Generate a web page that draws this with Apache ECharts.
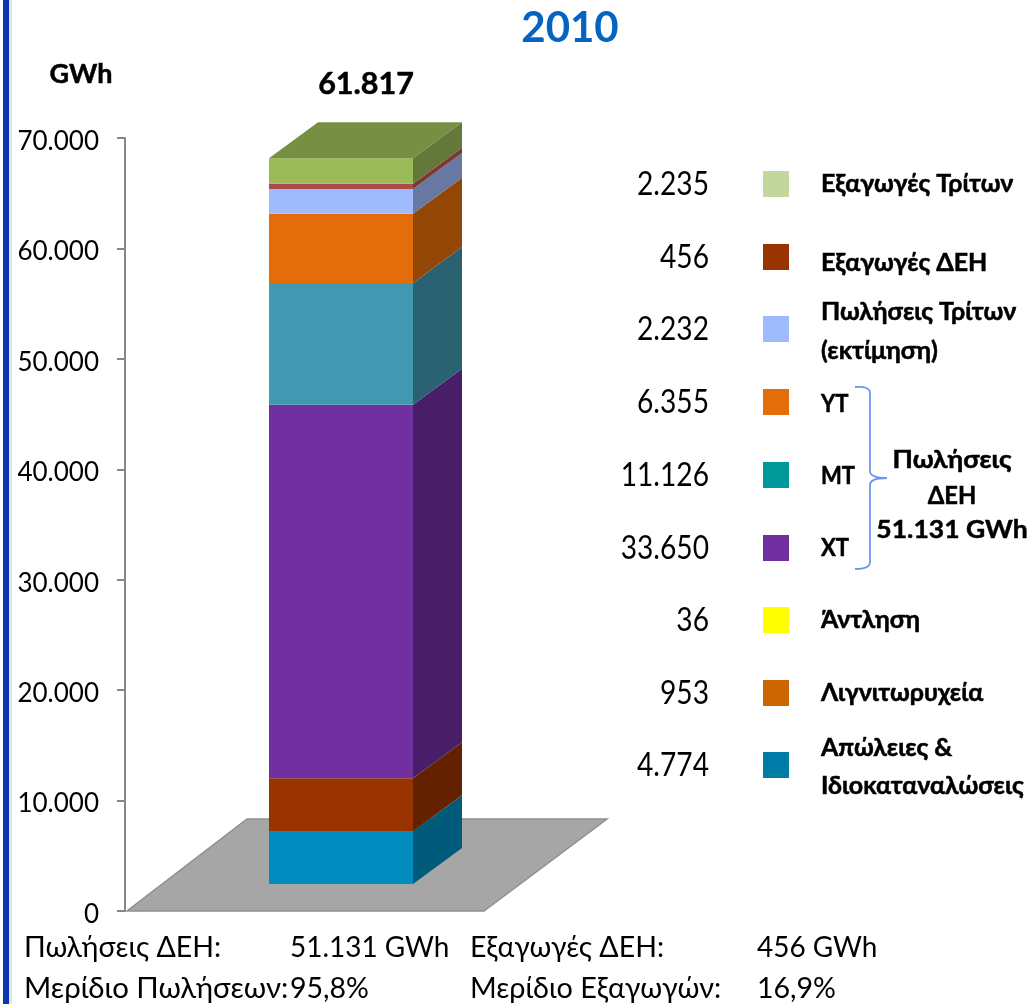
<!DOCTYPE html>
<html>
<head>
<meta charset="utf-8">
<title>2010</title>
<style>
  html, body { margin: 0; padding: 0; background: #fff; }
  #chart { width: 1033px; height: 1004px; }
</style>
</head>
<body>
<div id="chart"></div>
<script src="https://cdn.jsdelivr.net/npm/echarts@6/dist/echarts.min.js"></script>
<script>
// heights of the bar segments, bottom to top
var barNames = ["Απώλειες", "Λιγνιτωρυχεία", "ΧΤ", "ΜΤ", "ΥΤ", "Πωλήσεις Τρίτων", "Εξαγωγές ΔΕΗ", "Εξαγωγές Τρίτων"];
var barValues = [4774, 4800, 33830, 11020, 6280, 2235, 480, 2300];
var barFront = ["#008CBF", "#993300", "#7030A0", "#4298B0", "#E46C0A", "#A0BBFD", "#A94B4C", "#9BBB59"];
var barSide = ["#005A7A", "#632100", "#471E67", "#2A6272", "#934707", "#6779A3", "#7D3836", "#64783A"];
var barTop = "#768F42";

// legend on the right, top to bottom
var legendValues = ["2.235", "456", "2.232", "6.355", "11.126", "33.650", "36", "953", "4.774"];
var legendNames = [
  ["Εξαγωγές Τρίτων"], ["Εξαγωγές ΔΕΗ"], ["Πωλήσεις Τρίτων", "(εκτίμηση)"], ["ΥΤ"], ["ΜΤ"], ["ΧΤ"],
  ["Άντληση"], ["Λιγνιτωρυχεία"], ["Απώλειες &", "Ιδιοκαταναλώσεις"]
];
var legendColors = ["#C3D69B", "#993300", "#A0BBFD", "#E46C0A", "#009999", "#7030A0", "#FFFF00", "#CC6600", "#007CA8"];
var totalLabel = "61.817";
var groupLabel = ["Πωλήσεις", "ΔΕΗ", "51.131 GWh"];
var footerRows = [
  ["Πωλήσεις ΔΕΗ:", "51.131 GWh", "Εξαγωγές ΔΕΗ:", "456 GWh"],
  ["Μερίδιο Πωλήσεων:", "95,8%", "Μερίδιο Εξαγωγών:", "16,9%"]
];

var FONT = "Lato, 'Noto Sans', sans-serif";
var BAR_W = 144, DEPTH_X = 49, DEPTH_Y = 36, BASE_LIFT = 27;

function poly(points, color) {
  return { type: "polygon", shape: { points: points }, style: { fill: color } };
}

function segmentItem(front, side, isTop) {
  return function (params, api) {
    var low = api.coord([api.value(0), api.value(1)]);
    var high = api.coord([api.value(0), api.value(2)]);
    var x1 = low[0] - BAR_W / 2, x2 = low[0] + BAR_W / 2;
    var yb = low[1] - BASE_LIFT, yt = high[1] - BASE_LIFT;
    var children = [
      poly([[x2, yb], [x2 + DEPTH_X, yb - DEPTH_Y], [x2 + DEPTH_X, yt - DEPTH_Y], [x2, yt]], side),
      poly([[x1, yb], [x2, yb], [x2, yt], [x1, yt]], front)
    ];
    if (isTop) {
      children.push(poly([[x1, yt], [x2, yt], [x2 + DEPTH_X, yt - DEPTH_Y], [x1 + DEPTH_X, yt - DEPTH_Y]], barTop));
    }
    return { type: "group", children: children };
  };
}

function floorItem(params, api) {
  var p = api.coord([api.value(0), 0]);
  return {
    type: "polygon",
    shape: { points: [[p[0] - 214, p[1]], [p[0] + 143, p[1]], [p[0] + 266, p[1] - 92], [p[0] - 94, p[1] - 92]] },
    style: { fill: "#A6A6A6", stroke: "#8F8F8F", lineWidth: 1.5 }
  };
}

var series = [{ type: "custom", name: "floor", silent: true, renderItem: floorItem, data: [[0, 0]], z: 1 }];
var running = 0;
barValues.forEach(function (v, i) {
  series.push({
    type: "custom",
    name: barNames[i],
    renderItem: segmentItem(barFront[i], barSide[i], i === barValues.length - 1),
    encode: { x: 0, y: [1, 2] },
    data: [[0, running, running + v]],
    z: 2 + i
  });
  running += v;
});

// scale: horizontal squeeze, the reference font is narrower/wider than Lato
function text(x, y, str, size, bold, align, scale) {
  return {
    type: "text", x: x, y: y, scaleX: scale || 1,
    style: {
      text: str, fill: "#000", align: align || "left", verticalAlign: "middle",
      stroke: bold ? "#000" : null, lineWidth: bold ? 0.5 : 0,
      font: (bold ? "bold " : "") + size + "px " + FONT
    }
  };
}

// one piece of the blue brace
function brace(x1, y1, cx, cy, x2, y2) {
  return {
    type: "bezierCurve",
    shape: { x1: x1, y1: y1, cpx1: cx, cpy1: cy, x2: x2, y2: y2 },
    style: { fill: "none", stroke: "#6C96EC", lineWidth: 1.8 }
  };
}

var ROW_Y = [185, 258, 330, 403, 476, 549, 621, 694, 766];
var NAME_Y = [[184], [263], [312, 351], [404], [476], [548], [620], [693], [748, 786]];
var graphics = [
  { type: "rect", shape: { x: 3, y: 0, width: 6, height: 1004 }, style: { fill: "#0A37AE" } },
  { type: "rect", shape: { x: 9, y: 0, width: 3, height: 1004 }, style: { fill: "#E4E4E4" } },
  text(81, 74, "GWh", 27, true, "center"),
  text(366, 84, totalLabel, 30.5, true, "center"),
  brace(855, 387, 870, 386, 870, 393),
  brace(870, 393, 870, 432, 870, 471),
  brace(870, 471, 870, 478, 887, 478),
  brace(887, 478, 870, 478, 870, 485),
  brace(870, 485, 870, 523, 870, 562),
  brace(870, 562, 870, 569, 855, 569)
];
legendValues.forEach(function (v, i) {
  graphics.push(text(709, ROW_Y[i], v, 32, false, "right", 0.88));
  graphics.push({ type: "rect", shape: { x: 763, y: ROW_Y[i] - 14, width: 26, height: 26 }, style: { fill: legendColors[i] } });
  legendNames[i].forEach(function (line, k) {
    graphics.push(text(821, NAME_Y[i][k], line, 24, true, "left", line.length <= 2 ? 0.92 : 1.04));
  });
});
[460, 496, 530].forEach(function (y, i) {
  graphics.push(text(952, y, groupLabel[i], 25, true, "center", i === 1 ? 0.95 : 1.06));
});
var FOOT_X = [24, 290, 470, 757], FOOT_Y = [948, 989];
var FOOT_SCALE = [[1, 0.98, 1, 0.98], [1.03, 1, 1.01, 1]];
footerRows.forEach(function (row, r) {
  row.forEach(function (s, c) {
    graphics.push(text(FOOT_X[c], FOOT_Y[r], s, 28.5, false, "left", FOOT_SCALE[r][c]));
  });
});

var myChart = echarts.init(document.getElementById("chart"));
myChart.setOption({
  animation: false,
  backgroundColor: "#fff",
  title: {
    text: "2010", left: 565, top: 2, textAlign: "center",
    textStyle: { color: "#0563C1", fontSize: 42, fontWeight: "bold", fontFamily: FONT }
  },
  grid: { left: 125, top: 138, width: 432, height: 773 },
  xAxis: { type: "category", data: ["2010"], show: false },
  yAxis: {
    type: "value", min: 0, max: 70000, interval: 10000,
    splitLine: { show: false },
    axisLine: { show: true, lineStyle: { color: "#868686", width: 2 } },
    axisTick: { show: true, length: 8, lineStyle: { color: "#868686", width: 2 } },
    axisLabel: {
      margin: 26, color: "#000", fontSize: 26, fontFamily: FONT,
      verticalAlign: "top", lineHeight: 7,
      formatter: function (v) { return v === 0 ? "0" : (v / 1000) + ".000"; }
    }
  },
  series: series,
  graphic: graphics
});
</script>
</body>
</html>
